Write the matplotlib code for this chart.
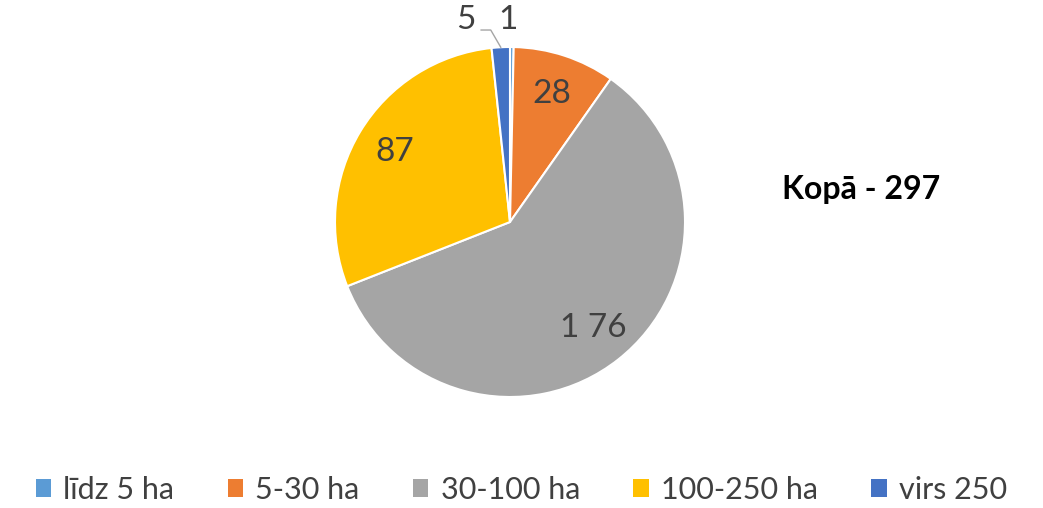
import numpy as np
import matplotlib.pyplot as plt
from matplotlib.patches import Patch

categories = ['līdz 5 ha', '5-30 ha', '30-100 ha', '100-250 ha', 'virs 250']
counts = [1, 28, 176, 87, 5]
value_labels = ['1', '28', '1 76', '87', '5']
colors = ['#5B9BD5', '#ED7D31', '#A5A5A5', '#FFC000', '#4472C4']
total_label = 'Kopā - 297'

plt.rcParams['font.family'] = ['Lato', 'DejaVu Sans']
text_color = '#404040'

W, H = 1043, 508
fig = plt.figure(figsize=(W / 100, H / 100), dpi=100)

# pie axes placed in pixel terms: centre (510, 222), radius 175
cx, cy, r = 510, 222, 175
ax = fig.add_axes([(cx - r) / W, (H - cy - r) / H, 2 * r / W, 2 * r / H])
wedges, _ = ax.pie(counts, colors=colors, startangle=90, counterclock=False,
                   radius=1, wedgeprops=dict(edgecolor='white', linewidth=1.5))
ax.set_xlim(-1, 1)
ax.set_ylim(-1, 1)
ax.set_aspect('equal')
ax.axis('off')

def mid_dir(w):
    a = np.deg2rad((w.theta1 + w.theta2) / 2)
    return np.cos(a), np.sin(a)

# inside labels for the large slices
for i in (1, 2, 3):
    dx, dy = mid_dir(wedges[i])
    ax.text(0.77 * dx, 0.77 * dy, value_labels[i], ha='center', va='center',
            fontsize=24, color=text_color)

# small slices labelled above the pie
dx, dy = mid_dir(wedges[0])
ax.text(dx - 0.02, 1.155, value_labels[0], ha='center', va='center',
        fontsize=24, color=text_color, clip_on=False)

dx, dy = mid_dir(wedges[4])
ax.text(-0.25, 1.155, value_labels[4], ha='center', va='center',
        fontsize=24, color=text_color, clip_on=False)
ax.plot([-0.165, -0.11, dx * 1.0], [1.097, 1.097, dy * 1.0],
        color='#A5A5A5', lw=1, clip_on=False)

fig.text(782 / W, 1 - 190 / H, total_label, ha='left', va='center',
         fontsize=23, fontweight='bold', color='black')

handles = [Patch(facecolor=c, edgecolor='none') for c in colors]
fig.legend(handles, categories, loc='center', bbox_to_anchor=(0.5, 1 - 490 / H),
           ncol=5, frameon=False, fontsize=22, handlelength=0.5, handleheight=0.5,
           handletextpad=0.4, columnspacing=1.75, labelcolor=text_color)

fig.savefig('out.png', dpi=100)
